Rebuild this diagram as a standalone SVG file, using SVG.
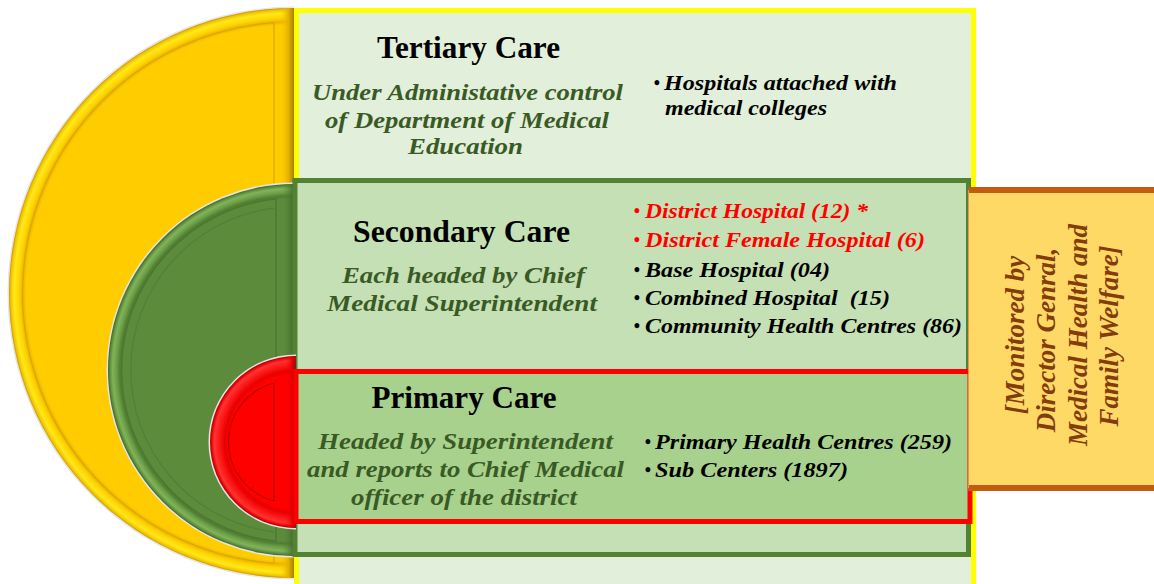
<svg xmlns="http://www.w3.org/2000/svg" width="1154" height="584" viewBox="0 0 1154 584">
  <style>
    .serif { font-family: "Liberation Serif", "Times New Roman", serif; }
    .head { font-weight: bold; font-size: 31px; fill: #000000; }
    .note { font-weight: bold; font-style: italic; font-size: 24px; fill: #3a5a25; }
    .item { font-weight: bold; font-style: italic; font-size: 21px; fill: #000000; }
    .hot { fill: #ff0000; }
    .dot { font-weight: bold; font-size: 18px; text-anchor: middle; }
    .mon { font-weight: bold; font-style: italic; font-size: 27px; fill: #843c0c; text-anchor: middle; }
    .halo { fill: none; stroke: #e6e6e6; stroke-width: 3; }
    .inner { fill: none; stroke-width: 1.2; }
  </style>
  <defs>
    <!-- bevelled rims for the three half discs -->
    <radialGradient id="rimY" gradientUnits="userSpaceOnUse" cx="294" cy="293" r="285">
      <stop offset="0" stop-color="#ffcc00"/>
      <stop offset="0.94" stop-color="#ffcc00"/>
      <stop offset="0.952" stop-color="#e9b500"/>
      <stop offset="0.965" stop-color="#ffd400"/>
      <stop offset="0.982" stop-color="#ffe81a"/>
      <stop offset="0.994" stop-color="#f2c400"/>
      <stop offset="1" stop-color="#c69600"/>
    </radialGradient>
    <radialGradient id="rimG" gradientUnits="userSpaceOnUse" cx="294" cy="370" r="186">
      <stop offset="0" stop-color="#5c8b3b"/>
      <stop offset="0.92" stop-color="#5c8b3b"/>
      <stop offset="0.935" stop-color="#4f7d31"/>
      <stop offset="0.955" stop-color="#6d9f47"/>
      <stop offset="0.975" stop-color="#80b35a"/>
      <stop offset="0.99" stop-color="#5e8e3c"/>
      <stop offset="1" stop-color="#3b6526"/>
    </radialGradient>
    <radialGradient id="rimR" gradientUnits="userSpaceOnUse" cx="296" cy="442" r="86">
      <stop offset="0" stop-color="#ff0000"/>
      <stop offset="0.78" stop-color="#ff0000"/>
      <stop offset="0.83" stop-color="#e80000"/>
      <stop offset="0.9" stop-color="#ff1a1a"/>
      <stop offset="0.95" stop-color="#ff3333"/>
      <stop offset="0.985" stop-color="#e00000"/>
      <stop offset="1" stop-color="#a80000"/>
    </radialGradient>
    <!-- shading along the flat side of each half disc -->
    <linearGradient id="edgeY" x1="0" y1="0" x2="1" y2="0">
      <stop offset="0" stop-color="#ffcc00" stop-opacity="0"/>
      <stop offset="0.6" stop-color="#e0ac00"/>
      <stop offset="1" stop-color="#9c7400"/>
    </linearGradient>
    <linearGradient id="edgeG" x1="0" y1="0" x2="1" y2="0">
      <stop offset="0" stop-color="#5c8b3b" stop-opacity="0"/>
      <stop offset="1" stop-color="#3c6426"/>
    </linearGradient>
    <linearGradient id="edgeR" x1="0" y1="0" x2="1" y2="0">
      <stop offset="0" stop-color="#ff0000" stop-opacity="0"/>
      <stop offset="0.7" stop-color="#d00000"/>
      <stop offset="1" stop-color="#3a3a3a"/>
    </linearGradient>
    <clipPath id="clipY"><path d="M294,8 A285,285 0 0 0 294,578 Z"/></clipPath>
    <clipPath id="clipG"><path d="M294,184 A186,186 0 0 0 294,556 Z"/></clipPath>
    <clipPath id="clipR"><path d="M296,356 A86,86 0 0 0 296,528 Z"/></clipPath>
  </defs>

  <rect width="1154" height="584" fill="#ffffff"/>

  <!-- Tertiary level -->
  <g id="node-tertiary">
    <path class="halo" d="M294,8 A285,285 0 0 0 294,578"/>
    <path d="M294,8 A285,285 0 0 0 294,578 Z" fill="url(#rimY)"/>
    <rect x="280" y="0" width="15" height="584" fill="url(#edgeY)" clip-path="url(#clipY)"/>
    <path class="inner" stroke="#dba800" d="M274,22.7 A271,271 0 0 0 274,563.3 Z"/>
    <rect x="296.5" y="10.5" width="677" height="600" fill="#e2efda" stroke="#ffff00" stroke-width="5"/>
    <text class="serif head" x="377" y="58" textLength="183" lengthAdjust="spacingAndGlyphs">Tertiary Care</text>
    <text class="serif note" x="312" y="100" textLength="311" lengthAdjust="spacingAndGlyphs">Under Administative control</text>
    <text class="serif note" x="325" y="128" textLength="284" lengthAdjust="spacingAndGlyphs">of Department of Medical</text>
    <text class="serif note" x="408" y="154" textLength="115" lengthAdjust="spacingAndGlyphs">Education</text>
    <text class="serif dot" x="657" y="89">•</text>
    <text class="serif item" x="664" y="90" textLength="233" lengthAdjust="spacingAndGlyphs">Hospitals attached with</text>
    <text class="serif item" x="665" y="115" textLength="162" lengthAdjust="spacingAndGlyphs">medical colleges</text>
  </g>

  <!-- Secondary level -->
  <g id="node-secondary">
    <path class="halo" d="M294,184 A186,186 0 0 0 294,556"/>
    <path d="M294,184 A186,186 0 0 0 294,556 Z" fill="url(#rimG)"/>
    <rect x="282" y="170" width="13" height="400" fill="url(#edgeG)" clip-path="url(#clipG)"/>
    <path class="inner" stroke="#4a7630" d="M276,198.9 A172,172 0 0 0 276,541.1 Z"/>
    <path class="inner" stroke="#4f7b34" stroke-opacity="0.7" d="M274,208.2 A163,163 0 0 0 274,531.8"/>
    <rect x="295" y="180.5" width="673.5" height="374" fill="#c5e0b4" stroke="#548235" stroke-width="5"/>
    <text class="serif head" x="353" y="242" font-size="32" textLength="217" lengthAdjust="spacingAndGlyphs">Secondary Care</text>
    <text class="serif note" x="342" y="283" textLength="243" lengthAdjust="spacingAndGlyphs">Each headed by Chief</text>
    <text class="serif note" x="327" y="311" textLength="270" lengthAdjust="spacingAndGlyphs">Medical Superintendent</text>
    <text class="serif dot hot" x="637" y="217">•</text>
    <text class="serif item hot" x="645" y="218" textLength="223" lengthAdjust="spacingAndGlyphs">District Hospital (12) *</text>
    <text class="serif dot hot" x="637" y="246">•</text>
    <text class="serif item hot" x="645" y="247" textLength="280" lengthAdjust="spacingAndGlyphs">District Female Hospital (6)</text>
    <text class="serif dot" x="637" y="276">•</text>
    <text class="serif item" x="645" y="277" textLength="185" lengthAdjust="spacingAndGlyphs">Base Hospital (04)</text>
    <text class="serif dot" x="637" y="304">•</text>
    <text class="serif item" x="645" y="305" textLength="245" lengthAdjust="spacingAndGlyphs" xml:space="preserve">Combined Hospital  (15)</text>
    <text class="serif dot" x="637" y="332">•</text>
    <text class="serif item" x="645" y="333" textLength="317" lengthAdjust="spacingAndGlyphs">Community Health Centres (86)</text>
  </g>

  <!-- Primary level -->
  <g id="node-primary">
    <path class="halo" d="M296,356 A86,86 0 0 0 296,528"/>
    <path d="M296,356 A86,86 0 0 0 296,528 Z" fill="url(#rimR)"/>
    <rect x="286" y="350" width="11" height="185" fill="url(#edgeR)" clip-path="url(#clipR)"/>
    <path class="inner" stroke="#b80000" d="M274,383 A61,61 0 0 0 274,501 Z"/>
    <rect x="296" y="371.5" width="674" height="150" fill="#a9d18e" stroke="#ff0000" stroke-width="5"/>
    <text class="serif head" x="371.5" y="408" textLength="185" lengthAdjust="spacingAndGlyphs">Primary Care</text>
    <text class="serif note" x="318" y="449" textLength="295" lengthAdjust="spacingAndGlyphs">Headed by Superintendent</text>
    <text class="serif note" x="307" y="477" textLength="317" lengthAdjust="spacingAndGlyphs">and reports to Chief Medical</text>
    <text class="serif note" x="351" y="505" textLength="226" lengthAdjust="spacingAndGlyphs">officer of the district</text>
    <text class="serif dot" x="648" y="448">•</text>
    <text class="serif item" x="655" y="449" textLength="297" lengthAdjust="spacingAndGlyphs">Primary Health Centres (259)</text>
    <text class="serif dot" x="648" y="476">•</text>
    <text class="serif item" x="655" y="477" textLength="193" lengthAdjust="spacingAndGlyphs">Sub Centers (1897)</text>
  </g>

  <!-- Monitoring tab -->
  <g id="node-monitor">
    <rect x="968" y="190" width="190" height="298" fill="#ffd966"/>
    <line x1="968" y1="190" x2="1158" y2="190" stroke="#c55a11" stroke-width="6"/>
    <line x1="968" y1="488" x2="1158" y2="488" stroke="#c55a11" stroke-width="6"/>
    <line x1="968.5" y1="190" x2="968.5" y2="488" stroke="#e8954a" stroke-width="1"/>
    <g transform="translate(1071,337) rotate(-90)">
      <text class="serif mon" x="2" y="-47">[Monitored by</text>
      <text class="serif mon" x="-3" y="-16">Director Genral,</text>
      <text class="serif mon" x="2" y="16">Medical Health and</text>
      <text class="serif mon" x="1" y="47">Family Welfare]</text>
    </g>
  </g>
</svg>
